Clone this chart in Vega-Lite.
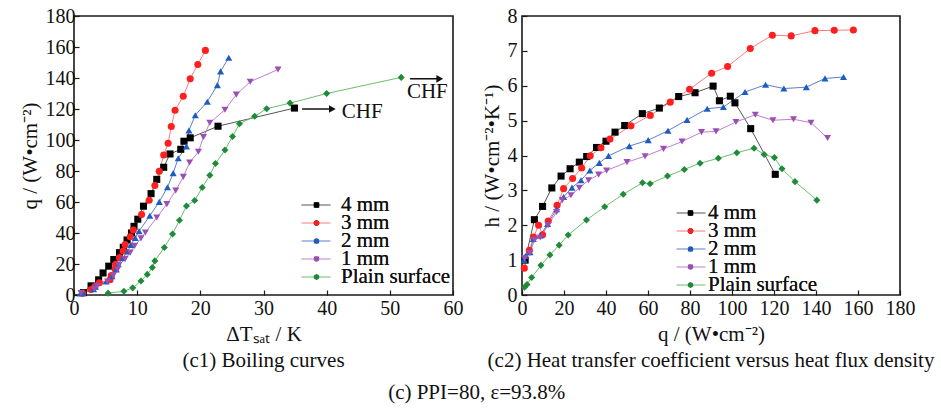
{
  "$schema": "https://vega.github.io/schema/vega-lite/v6.json",
  "background": "white",
  "padding": {"left": 18, "top": 5, "right": 5, "bottom": 5},
  "config": {
    "font": "Liberation Serif",
    "view": {"stroke": "#1a1a1a", "strokeWidth": 1.6},
    "axis": {
      "grid": false, "domain": false, "labelOverlap": false, "labelFlush": false,
      "labelFont": "Liberation Serif", "labelFontSize": 20, "labelColor": "#111",
      "titleFont": "Liberation Serif", "titleFontSize": 21, "titleFontWeight": "normal", "titleColor": "#111",
      "tickColor": "#1a1a1a", "tickSize": -5, "tickWidth": 1.2, "labelPadding": 8, "titlePadding": 5
    },
    "legend": {
      "title": null, "padding": 0, "labelFont": "Liberation Serif", "labelFontSize": 21, "labelColor": "#111", "labelLimit": 300, "clipHeight": 16, "rowPadding": -7
    },
    "title": {"font": "Liberation Serif", "fontSize": 21, "fontWeight": "normal", "color": "#111"}
  },
  "datasets": {
    "pts": [
      {"s": "4 mm", "q": 1.5, "h": 1.0, "dT": 1.5},
      {"s": "4 mm", "q": 5.9, "h": 2.16, "dT": 2.7},
      {"s": "4 mm", "q": 9.8, "h": 2.54, "dT": 3.9},
      {"s": "4 mm", "q": 14.2, "h": 3.07, "dT": 4.6},
      {"s": "4 mm", "q": 18.6, "h": 3.41, "dT": 5.5},
      {"s": "4 mm", "q": 22.9, "h": 3.62, "dT": 6.3},
      {"s": "4 mm", "q": 27.3, "h": 3.81, "dT": 7.2},
      {"s": "4 mm", "q": 30.8, "h": 3.97, "dT": 7.8},
      {"s": "4 mm", "q": 35.5, "h": 4.23, "dT": 8.4},
      {"s": "4 mm", "q": 40.0, "h": 4.41, "dT": 9.1},
      {"s": "4 mm", "q": 44.3, "h": 4.67, "dT": 9.5},
      {"s": "4 mm", "q": 48.9, "h": 4.86, "dT": 10.1},
      {"s": "4 mm", "q": 57.3, "h": 5.2, "dT": 11.0},
      {"s": "4 mm", "q": 65.4, "h": 5.36, "dT": 12.2},
      {"s": "4 mm", "q": 74.6, "h": 5.69, "dT": 13.1},
      {"s": "4 mm", "q": 82.4, "h": 5.8, "dT": 14.2},
      {"s": "4 mm", "q": 91.0, "h": 5.99, "dT": 15.2},
      {"s": "4 mm", "q": 94.0, "h": 5.57, "dT": 16.9},
      {"s": "4 mm", "q": 99.2, "h": 5.7, "dT": 17.4},
      {"s": "4 mm", "q": 101.4, "h": 5.51, "dT": 18.4},
      {"s": "4 mm", "q": 108.9, "h": 4.77, "dT": 22.8},
      {"s": "4 mm", "q": 120.6, "h": 3.46, "dT": 34.9},
      {"s": "3 mm", "q": 1.1, "h": 0.77, "dT": 1.4},
      {"s": "3 mm", "q": 3.5, "h": 1.28, "dT": 2.7},
      {"s": "3 mm", "q": 5.5, "h": 1.66, "dT": 3.3},
      {"s": "3 mm", "q": 7.9, "h": 2.0, "dT": 4.0},
      {"s": "3 mm", "q": 9.8, "h": 1.73, "dT": 5.7},
      {"s": "3 mm", "q": 12.5, "h": 2.12, "dT": 5.9},
      {"s": "3 mm", "q": 16.7, "h": 2.57, "dT": 6.5},
      {"s": "3 mm", "q": 19.8, "h": 3.05, "dT": 6.6},
      {"s": "3 mm", "q": 24.1, "h": 3.34, "dT": 7.2},
      {"s": "3 mm", "q": 28.4, "h": 3.64, "dT": 7.8},
      {"s": "3 mm", "q": 32.5, "h": 3.99, "dT": 8.1},
      {"s": "3 mm", "q": 37.6, "h": 4.22, "dT": 8.9},
      {"s": "3 mm", "q": 41.9, "h": 4.47, "dT": 9.4},
      {"s": "3 mm", "q": 51.9, "h": 4.85, "dT": 10.7},
      {"s": "3 mm", "q": 61.1, "h": 5.15, "dT": 11.9},
      {"s": "3 mm", "q": 70.6, "h": 5.53, "dT": 12.8},
      {"s": "3 mm", "q": 79.8, "h": 5.9, "dT": 13.5},
      {"s": "3 mm", "q": 90.3, "h": 6.36, "dT": 14.2},
      {"s": "3 mm", "q": 97.9, "h": 6.55, "dT": 14.9},
      {"s": "3 mm", "q": 108.7, "h": 7.07, "dT": 15.4},
      {"s": "3 mm", "q": 119.2, "h": 7.45, "dT": 16.0},
      {"s": "3 mm", "q": 128.2, "h": 7.43, "dT": 17.3},
      {"s": "3 mm", "q": 139.5, "h": 7.58, "dT": 18.4},
      {"s": "3 mm", "q": 148.7, "h": 7.59, "dT": 19.6},
      {"s": "3 mm", "q": 157.8, "h": 7.6, "dT": 20.8},
      {"s": "2 mm", "q": 1.0, "h": 1.0, "dT": 1.0},
      {"s": "2 mm", "q": 1.6, "h": 1.12, "dT": 1.4},
      {"s": "2 mm", "q": 3.8, "h": 1.23, "dT": 3.1},
      {"s": "2 mm", "q": 5.4, "h": 1.61, "dT": 3.4},
      {"s": "2 mm", "q": 8.7, "h": 1.71, "dT": 5.1},
      {"s": "2 mm", "q": 12.2, "h": 2.04, "dT": 6.0},
      {"s": "2 mm", "q": 16.5, "h": 2.46, "dT": 6.7},
      {"s": "2 mm", "q": 19.8, "h": 2.81, "dT": 7.0},
      {"s": "2 mm", "q": 23.8, "h": 3.08, "dT": 7.7},
      {"s": "2 mm", "q": 28.1, "h": 3.29, "dT": 8.5},
      {"s": "2 mm", "q": 32.3, "h": 3.57, "dT": 9.0},
      {"s": "2 mm", "q": 36.8, "h": 3.79, "dT": 9.7},
      {"s": "2 mm", "q": 41.2, "h": 3.99, "dT": 10.3},
      {"s": "2 mm", "q": 51.1, "h": 4.27, "dT": 12.0},
      {"s": "2 mm", "q": 60.1, "h": 4.44, "dT": 13.5},
      {"s": "2 mm", "q": 69.5, "h": 4.71, "dT": 14.8},
      {"s": "2 mm", "q": 78.6, "h": 5.02, "dT": 15.7},
      {"s": "2 mm", "q": 88.2, "h": 5.34, "dT": 16.5},
      {"s": "2 mm", "q": 95.9, "h": 5.39, "dT": 17.8},
      {"s": "2 mm", "q": 106.2, "h": 5.82, "dT": 18.2},
      {"s": "2 mm", "q": 116.0, "h": 6.03, "dT": 19.2},
      {"s": "2 mm", "q": 124.7, "h": 5.92, "dT": 21.1},
      {"s": "2 mm", "q": 135.4, "h": 5.96, "dT": 22.7},
      {"s": "2 mm", "q": 144.3, "h": 6.21, "dT": 23.2},
      {"s": "2 mm", "q": 153.1, "h": 6.25, "dT": 24.5},
      {"s": "1 mm", "q": 1.2, "h": 1.05, "dT": 1.1},
      {"s": "1 mm", "q": 3.8, "h": 1.2, "dT": 3.2},
      {"s": "1 mm", "q": 5.9, "h": 1.58, "dT": 3.7},
      {"s": "1 mm", "q": 8.7, "h": 1.65, "dT": 5.3},
      {"s": "1 mm", "q": 12.4, "h": 2.0, "dT": 6.2},
      {"s": "1 mm", "q": 16.5, "h": 2.38, "dT": 6.9},
      {"s": "1 mm", "q": 19.2, "h": 2.72, "dT": 7.1},
      {"s": "1 mm", "q": 23.3, "h": 2.86, "dT": 8.1},
      {"s": "1 mm", "q": 27.3, "h": 3.07, "dT": 8.9},
      {"s": "1 mm", "q": 31.7, "h": 3.29, "dT": 9.6},
      {"s": "1 mm", "q": 36.5, "h": 3.45, "dT": 10.6},
      {"s": "1 mm", "q": 40.3, "h": 3.57, "dT": 11.3},
      {"s": "1 mm", "q": 50.0, "h": 3.81, "dT": 13.1},
      {"s": "1 mm", "q": 58.6, "h": 3.98, "dT": 14.7},
      {"s": "1 mm", "q": 67.4, "h": 4.19, "dT": 16.1},
      {"s": "1 mm", "q": 76.2, "h": 4.4, "dT": 17.3},
      {"s": "1 mm", "q": 85.5, "h": 4.67, "dT": 18.3},
      {"s": "1 mm", "q": 92.4, "h": 4.69, "dT": 19.7},
      {"s": "1 mm", "q": 101.9, "h": 4.96, "dT": 20.5},
      {"s": "1 mm", "q": 111.1, "h": 5.17, "dT": 21.5},
      {"s": "1 mm", "q": 119.5, "h": 5.01, "dT": 23.9},
      {"s": "1 mm", "q": 129.3, "h": 5.04, "dT": 25.7},
      {"s": "1 mm", "q": 137.6, "h": 4.94, "dT": 27.9},
      {"s": "1 mm", "q": 145.5, "h": 4.5, "dT": 32.3},
      {"s": "Plain surface", "q": 1.2, "h": 0.22, "dT": 5.4},
      {"s": "Plain surface", "q": 2.4, "h": 0.3, "dT": 7.9},
      {"s": "Plain surface", "q": 4.6, "h": 0.5, "dT": 9.3},
      {"s": "Plain surface", "q": 9.0, "h": 0.85, "dT": 10.6},
      {"s": "Plain surface", "q": 13.3, "h": 1.15, "dT": 11.6},
      {"s": "Plain surface", "q": 17.7, "h": 1.43, "dT": 12.4},
      {"s": "Plain surface", "q": 22.0, "h": 1.72, "dT": 12.8},
      {"s": "Plain surface", "q": 30.7, "h": 2.15, "dT": 14.3},
      {"s": "Plain surface", "q": 39.4, "h": 2.53, "dT": 15.6},
      {"s": "Plain surface", "q": 48.2, "h": 2.89, "dT": 16.7},
      {"s": "Plain surface", "q": 57.4, "h": 3.22, "dT": 17.8},
      {"s": "Plain surface", "q": 61.0, "h": 3.19, "dT": 19.1},
      {"s": "Plain surface", "q": 69.3, "h": 3.41, "dT": 20.3},
      {"s": "Plain surface", "q": 77.3, "h": 3.6, "dT": 21.5},
      {"s": "Plain surface", "q": 84.8, "h": 3.78, "dT": 22.4},
      {"s": "Plain surface", "q": 93.5, "h": 3.92, "dT": 23.9},
      {"s": "Plain surface", "q": 102.3, "h": 4.08, "dT": 25.1},
      {"s": "Plain surface", "q": 110.5, "h": 4.21, "dT": 26.2},
      {"s": "Plain surface", "q": 115.3, "h": 4.03, "dT": 28.6},
      {"s": "Plain surface", "q": 120.2, "h": 3.94, "dT": 30.5},
      {"s": "Plain surface", "q": 123.8, "h": 3.62, "dT": 34.2},
      {"s": "Plain surface", "q": 130.0, "h": 3.25, "dT": 40.0},
      {"s": "Plain surface", "q": 140.4, "h": 2.72, "dT": 51.8}
    ],
    "chf": [
      {"label": "CHF", "from": 36.1, "to": 40.9, "at": 120.0, "tx": 42.4, "ty": 118.0},
      {"label": "CHF", "from": 53.2, "to": 57.9, "at": 139.5, "tx": 52.7, "ty": 131.0}
    ]
  },
  "title": {"text": "(c) PPI=80, ε=93.8%", "orient": "bottom", "anchor": "middle", "offset": 10},
  "spacing": 16,
  "resolve": {
    "scale": {"color": "independent", "fill": "independent", "shape": "independent"},
    "legend": {"color": "independent", "fill": "independent", "shape": "independent"}
  },
  "hconcat": [
    {
      "width": 379,
      "height": 279,
      "title": {"text": "(c1) Boiling curves", "orient": "bottom", "anchor": "middle", "offset": 6},
      "layer": [
        {
          "data": {"name": "pts"},
          "mark": {"type": "line", "strokeWidth": 1},
          "encoding": {
            "x": {"field": "dT", "type": "quantitative", "scale": {"domain": [0, 60], "nice": false},
                  "axis": {"title": "ΔTₛₐₜ / K", "values": [0, 10, 20, 30, 40, 50, 60], "labelOverlap": false, "labelFlush": false}},
            "y": {"field": "q", "type": "quantitative", "scale": {"domain": [0, 180], "nice": false},
                  "axis": {"title": "q / (W•cm⁻²)", "values": [0, 20, 40, 60, 80, 100, 120, 140, 160, 180], "labelPadding": 4, "labelOverlap": false, "labelFlush": false}},
            "order": {"field": "q", "type": "quantitative"},
            "color": {"field": "s", "type": "nominal",
                      "scale": {"domain": ["4 mm", "3 mm", "2 mm", "1 mm", "Plain surface"], "range": ["#555555", "#ff7b7b", "#5a7fd0", "#c27ed6", "#6cbf6c"]},
                      "legend": {"orient": "none", "legendX": 227, "legendY": 181, "symbolType": "stroke", "symbolSize": 841, "symbolStrokeWidth": 1, "labelOpacity": 0, "labelOffset": 14}}
          }
        },
        {
          "data": {"name": "pts"},
          "mark": {"type": "point", "filled": true, "opacity": 1, "size": 50},
          "encoding": {
            "x": {"field": "dT", "type": "quantitative",
                  "axis": {"title": "ΔTₛₐₜ / K", "values": [0, 10, 20, 30, 40, 50, 60], "labelOverlap": false, "labelFlush": false}},
            "y": {"field": "q", "type": "quantitative",
                  "axis": {"title": "q / (W•cm⁻²)", "values": [0, 20, 40, 60, 80, 100, 120, 140, 160, 180], "labelPadding": 4, "labelOverlap": false, "labelFlush": false}},
            "fill": {"field": "s", "type": "nominal", "sort": ["4 mm", "3 mm", "2 mm", "1 mm", "Plain surface"],
                     "scale": {"range": ["#000000", "#ff1f1f", "#1f5cc0", "#9b4fb5", "#1f8a3a"]},
                     "legend": {"orient": "none", "legendX": 232, "legendY": 181, "symbolSize": 30, "symbolStrokeWidth": 0, "labelOffset": 14}},
            "shape": {"field": "s", "type": "nominal", "sort": ["4 mm", "3 mm", "2 mm", "1 mm", "Plain surface"],
                      "scale": {"range": ["square", "circle", "triangle-up", "triangle-down", "diamond"]},
                      "legend": {"orient": "none", "legendX": 232, "legendY": 181, "symbolSize": 30, "symbolStrokeWidth": 0, "labelOffset": 14}}
          }
        },
        {
          "data": {"name": "chf"},
          "mark": {"type": "rule", "color": "#111", "strokeWidth": 1.5},
          "encoding": {
            "x": {"field": "from", "type": "quantitative",
                  "axis": {"title": "ΔTₛₐₜ / K", "values": [0, 10, 20, 30, 40, 50, 60], "labelOverlap": false, "labelFlush": false}},
            "x2": {"field": "to"},
            "y": {"field": "at", "type": "quantitative",
                  "axis": {"title": "q / (W•cm⁻²)", "values": [0, 20, 40, 60, 80, 100, 120, 140, 160, 180], "labelPadding": 4, "labelOverlap": false, "labelFlush": false}}
          }
        },
        {
          "data": {"name": "chf"},
          "mark": {"type": "point", "shape": "triangle-right", "filled": true, "color": "#111", "size": 60, "opacity": 1},
          "encoding": {
            "x": {"field": "to", "type": "quantitative",
                  "axis": {"title": "ΔTₛₐₜ / K", "values": [0, 10, 20, 30, 40, 50, 60], "labelOverlap": false, "labelFlush": false}},
            "y": {"field": "at", "type": "quantitative",
                  "axis": {"title": "q / (W•cm⁻²)", "values": [0, 20, 40, 60, 80, 100, 120, 140, 160, 180], "labelPadding": 4, "labelOverlap": false, "labelFlush": false}}
          }
        },
        {
          "data": {"name": "chf"},
          "mark": {"type": "text", "align": "left", "baseline": "middle", "fontSize": 21, "font": "Liberation Serif", "color": "#111"},
          "encoding": {
            "x": {"field": "tx", "type": "quantitative",
                  "axis": {"title": "ΔTₛₐₜ / K", "values": [0, 10, 20, 30, 40, 50, 60], "labelOverlap": false, "labelFlush": false}},
            "y": {"field": "ty", "type": "quantitative",
                  "axis": {"title": "q / (W•cm⁻²)", "values": [0, 20, 40, 60, 80, 100, 120, 140, 160, 180], "labelPadding": 4, "labelOverlap": false, "labelFlush": false}},
            "text": {"field": "label"}
          }
        }
      ]
    },
    {
      "width": 378,
      "height": 279,
      "title": {"text": "(c2) Heat transfer coefficient versus heat flux density", "orient": "bottom", "anchor": "middle", "offset": 6},
      "layer": [
        {
          "data": {"name": "pts"},
          "mark": {"type": "line", "strokeWidth": 1},
          "encoding": {
            "x": {"field": "q", "type": "quantitative", "scale": {"domain": [0, 180], "nice": false},
                  "axis": {"title": "q / (W•cm⁻²)", "values": [0, 20, 40, 60, 80, 100, 120, 140, 160, 180], "labelOverlap": false, "labelFlush": false}},
            "y": {"field": "h", "type": "quantitative", "scale": {"domain": [0, 8], "nice": false},
                  "axis": {"title": "h / (W•cm⁻²•K⁻¹)", "values": [0, 1, 2, 3, 4, 5, 6, 7, 8], "labelPadding": 10, "labelOverlap": false, "labelFlush": false}},
            "order": {"field": "q", "type": "quantitative"},
            "color": {"field": "s", "type": "nominal",
                      "scale": {"domain": ["4 mm", "3 mm", "2 mm", "1 mm", "Plain surface"], "range": ["#555555", "#ff7b7b", "#5a7fd0", "#c27ed6", "#6cbf6c"]},
                      "legend": {"orient": "none", "legendX": 154, "legendY": 189, "symbolType": "stroke", "symbolSize": 841, "symbolStrokeWidth": 1, "labelOpacity": 0, "labelOffset": 7, "rowPadding": -6.6}}
          }
        },
        {
          "data": {"name": "pts"},
          "mark": {"type": "point", "filled": true, "opacity": 1, "size": 50},
          "encoding": {
            "x": {"field": "q", "type": "quantitative",
                  "axis": {"title": "q / (W•cm⁻²)", "values": [0, 20, 40, 60, 80, 100, 120, 140, 160, 180], "labelOverlap": false, "labelFlush": false}},
            "y": {"field": "h", "type": "quantitative",
                  "axis": {"title": "h / (W•cm⁻²•K⁻¹)", "values": [0, 1, 2, 3, 4, 5, 6, 7, 8], "labelPadding": 10, "labelOverlap": false, "labelFlush": false}},
            "fill": {"field": "s", "type": "nominal", "sort": ["4 mm", "3 mm", "2 mm", "1 mm", "Plain surface"],
                     "scale": {"range": ["#000000", "#ff1f1f", "#1f5cc0", "#9b4fb5", "#1f8a3a"]},
                     "legend": {"orient": "none", "legendX": 158, "legendY": 189, "symbolSize": 30, "symbolStrokeWidth": 0, "labelOffset": 7, "rowPadding": -6.6}},
            "shape": {"field": "s", "type": "nominal", "sort": ["4 mm", "3 mm", "2 mm", "1 mm", "Plain surface"],
                      "scale": {"range": ["square", "circle", "triangle-up", "triangle-down", "diamond"]},
                      "legend": {"orient": "none", "legendX": 158, "legendY": 189, "symbolSize": 30, "symbolStrokeWidth": 0, "labelOffset": 7, "rowPadding": -6.6}}
          }
        }
      ]
    }
  ]
}
